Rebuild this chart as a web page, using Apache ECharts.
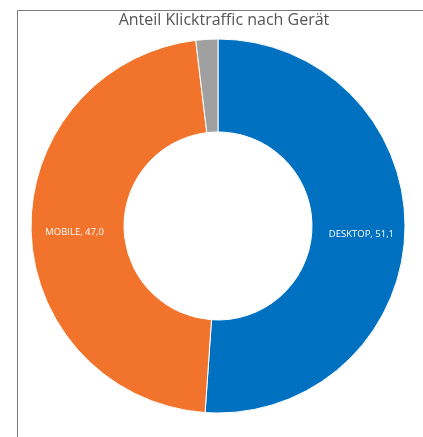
<!DOCTYPE html>
<html><head><meta charset="utf-8">
<script src="https://cdn.jsdelivr.net/npm/echarts@6/dist/echarts.min.js"></script>
<style>html,body{margin:0;padding:0;background:#fff}#c{width:423px;height:437px}</style>
</head><body><div id="c"></div>
<script>
const categories = ['DESKTOP', 'MOBILE', 'TABLET'];
const values = [51.1, 47.0, 1.9];
const colors = ['#0070C0', '#F2732B', '#A0A0A0'];
const showLabel = [true, true, false];

const chart = echarts.init(document.getElementById('c'));
chart.setOption({
  animation: false,
  backgroundColor: '#fff',
  title: {
    text: 'Anteil Klicktraffic nach Gerät',
    left: 219, top: 7, textAlign: 'center',
    textStyle: { fontFamily: 'Open Sans', fontSize: 16, fontWeight: 'normal', color: '#555555' }
  },
  graphic: [
    { type: 'polyline', shape: { points: [[17.5, 437], [17.5, 10.5], [423, 10.5]] },
      style: { stroke: '#7a7a7a', lineWidth: 1, fill: null } }
  ],
  series: [{
    type: 'pie',
    center: [218, 226],
    radius: [94, 187],
    startAngle: 90,
    clockwise: true,
    silent: true,
    itemStyle: { borderColor: '#fff', borderWidth: 1 },
    label: {
      position: 'inside',
      color: '#fff',
      fontFamily: 'Open Sans',
      fontSize: 9.5,
      offset: [0, 3],
      formatter: p => p.name + ', ' + p.value.toFixed(1).replace('.', ',')
    },
    labelLine: { show: false },
    data: categories.map((n, i) => ({
      name: n, value: values[i],
      itemStyle: { color: colors[i] },
      label: { show: showLabel[i] }
    }))
  }]
});
</script></body></html>
